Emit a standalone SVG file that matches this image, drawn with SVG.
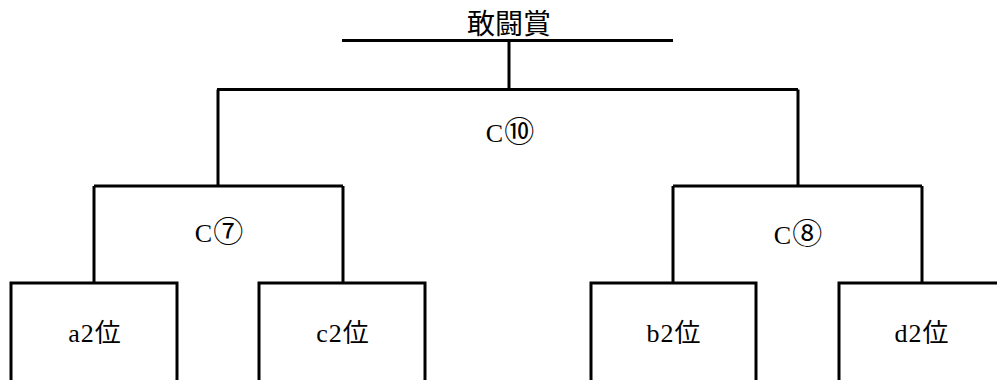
<svg xmlns="http://www.w3.org/2000/svg" width="997" height="380" viewBox="0 0 997 380">
<style>
.ln{stroke:#000;stroke-width:3;fill:none}
.box{stroke:#000;stroke-width:3;fill:#fff}
.t{font-family:"Liberation Serif","Noto Sans CJK JP",serif;font-size:26px;letter-spacing:1px;fill:#000;text-anchor:middle}
.cd{font-family:"Noto Sans CJK JP",sans-serif;font-size:30px;letter-spacing:0}
.h{font-family:"Noto Sans CJK JP",sans-serif;font-size:28px;fill:#000;text-anchor:middle}
</style>
<rect width="997" height="380" fill="#fff"/>
<g id="connectors">
<path class="ln" d="M342 40.5H673M509 40.5V89.5M217 89.5H798"/>
<path class="ln" d="M218 89.5V186M94 186H343M94 186V283M343 186V283"/>
<path class="ln" d="M798 89.5V186M673 186H922M673 186V283M922 186V283"/>
</g>
<g id="title"><text class="h" x="509" y="34">敢闘賞</text></g>
<g id="label-c10"><text class="t" x="510" y="142">C<tspan class="cd">⑩</tspan></text></g>
<g id="label-c7"><text class="t" x="219" y="242">C<tspan class="cd">⑦</tspan></text></g>
<g id="label-c8"><text class="t" x="798" y="244">C<tspan class="cd">⑧</tspan></text></g>
<g id="node-a2"><rect class="box" x="11" y="283" width="166" height="102"/><text class="t" x="95" y="342">a2位</text></g>
<g id="node-c2"><rect class="box" x="259" y="283" width="166" height="102"/><text class="t" x="343" y="342">c2位</text></g>
<g id="node-b2"><rect class="box" x="591" y="283" width="165" height="102"/><text class="t" x="674" y="342">b2位</text></g>
<g id="node-d2"><rect class="box" x="839" y="283" width="166" height="102"/><text class="t" x="922" y="342">d2位</text></g>
</svg>
